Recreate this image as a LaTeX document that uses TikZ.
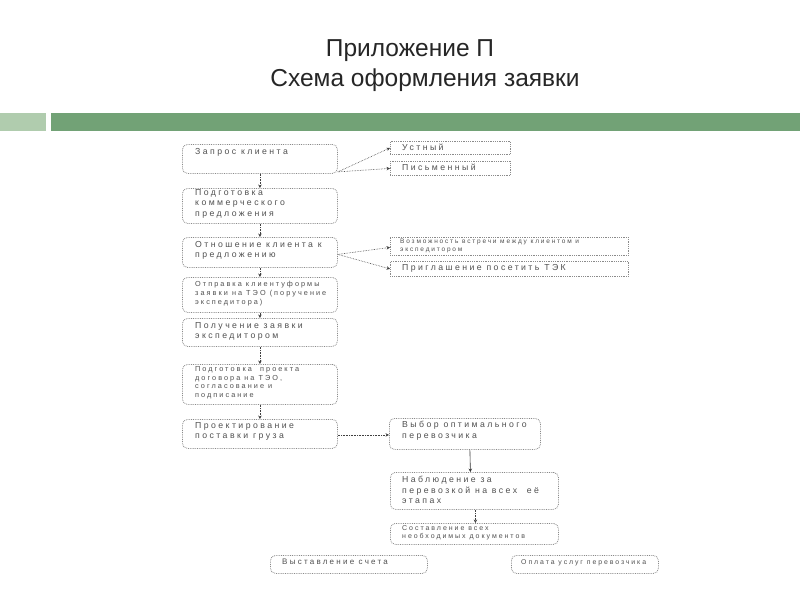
\documentclass[tikz,border=0pt]{standalone}
\usepackage{fontspec}
\setmainfont{Liberation Sans}
\newfontfamily\boxfont[LetterSpace=28]{Liberation Sans}
\usetikzlibrary{arrows.meta}
\definecolor{barlight}{HTML}{B0CCAE}
\definecolor{bardark}{HTML}{72A276}
\definecolor{boxline}{HTML}{8A8A8A}
\definecolor{boxtext}{HTML}{505050}
\begin{document}
\begin{tikzpicture}[x=1pt,y=-1pt,
  lbox/.style={draw=boxline, densely dotted, line width=0.8pt, rounded corners=5pt, inner sep=0pt, anchor=north west},
  sbox/.style={draw=boxline, densely dotted, line width=0.8pt, inner sep=0pt, anchor=north west},
  btxt/.style={font=\boxfont\fontsize{8.7}{10.5}\selectfont, text=boxtext, align=left, inner sep=0pt, anchor=north west},
  stxt/.style={font=\boxfont\fontsize{7.3}{8.8}\selectfont, text=boxtext, align=left, inner sep=0pt, anchor=north west},
  ttxt/.style={font=\boxfont\fontsize{6.5}{8}\selectfont, text=boxtext, align=left, inner sep=0pt, anchor=north west},
  conn/.style={densely dotted, draw=black!75, line width=0.6pt, -{Stealth[length=3.5pt,width=3.5pt]}},
  sconn/.style={draw=black!80, line width=0.6pt, -{Stealth[length=3.5pt,width=3.5pt]}},
  title/.style={font=\fontsize{24.5}{28}\selectfont, text=black!85, inner sep=0pt}
]
\useasboundingbox (0,0) rectangle (800,600);
\fill[white] (0,0) rectangle (800,600);
% title
\node[title] (title1) at (410,51) {Приложение П};
\node[title] (title2) at (425,80) {Схема оформления заявки};
% bars
\fill[barlight] (0,113) rectangle (46,131);
\fill[bardark] (51,113) rectangle (800,131);
% left column
\node[lbox, minimum width=155pt, minimum height=29pt] (b1) at (182,144) {};
\node[btxt] (t1) at (195,148) {Запрос клиента};
\node[lbox, minimum width=155pt, minimum height=35pt] (b2) at (182,188) {};
\node[btxt] (t2) at (195,189) {Подготовка\\коммерческого\\предложения};
\node[lbox, minimum width=155pt, minimum height=30pt] (b3) at (182,237) {};
\node[btxt] (t3) at (195,241) {Отношение клиента к\\предложению};
\node[lbox, minimum width=155pt, minimum height=35pt] (b4) at (182,277) {};
\node[stxt] (t4) at (195,281) {Отправка клиентуформы\\заявки на ТЭО (поручение\\экспедитора)};
\node[lbox, minimum width=155pt, minimum height=28pt] (b5) at (182,318) {};
\node[btxt] (t5) at (195,322) {Получение заявки\\экспедитором};
\node[lbox, minimum width=155pt, minimum height=40pt] (b6) at (182,364) {};
\node[stxt] (t6) at (195,366) {Подготовка \ проекта\\договора на ТЭО,\\согласование и\\подписание};
\node[lbox, minimum width=155pt, minimum height=29pt] (b7) at (182,419) {};
\node[btxt] (t7) at (195,422) {Проектирование\\поставки груза};
% right column
\node[sbox, minimum width=120pt, minimum height=13pt] (r1) at (390,141) {};
\node[btxt] (s1) at (402,144) {Устный};
\node[sbox, minimum width=120pt, minimum height=14pt] (r2) at (390,161) {};
\node[btxt] (s2) at (402,164) {Письменный};
\node[sbox, minimum width=238pt, minimum height=18pt] (r3) at (390,237) {};
\node[ttxt] (s3) at (400,239) {Возможность встречи между клиентом и\\экспедитором};
\node[sbox, minimum width=238pt, minimum height=15pt] (r4) at (390,261) {};
\node[btxt] (s4) at (402,264) {Приглашение посетить ТЭК};
\node[lbox, minimum width=151pt, minimum height=31pt] (r5) at (389,418) {};
\node[btxt] (s5) at (402,421) {Выбор оптимального\\перевозчика};
\node[lbox, minimum width=168pt, minimum height=37pt] (r6) at (390,472) {};
\node[btxt] (s6) at (402,476) {Наблюдение за\\перевозкой на всех \ её\\этапах};
\node[lbox, minimum width=168pt, minimum height=21pt] (r7) at (390,523) {};
\node[font=\boxfont\fontsize{7}{8.5}\selectfont, text=boxtext, align=left, inner sep=0pt, anchor=north west] (s7) at (402,525) {Составление всех\\необходимых документов};
\node[lbox, minimum width=157pt, minimum height=18pt] (r8) at (270,555) {};
\node[font=\boxfont\fontsize{8}{10}\selectfont, text=boxtext, inner sep=0pt, anchor=north west] (s8) at (282,559) {Выставление счета};
\node[lbox, minimum width=147pt, minimum height=18pt] (r9) at (511,555) {};
\node[font=\boxfont\fontsize{6.9}{8.5}\selectfont, text=boxtext, inner sep=0pt, anchor=north west] (s9) at (521,559) {Оплата услуг перевозчика};
% connectors
\draw[conn] ([yshift=-13pt]b1.east) -- (r1.west);
\draw[conn] ([yshift=-13pt]b1.east) -- (r2.west);
\draw[conn] ([yshift=-2pt]b3.east) -- ([yshift=-1pt]r3.west);
\draw[conn] ([yshift=-2pt]b3.east) -- (r4.west);
\draw[conn] (b1.south) -- (b2.north);
\draw[conn] (b2.south) -- (b3.north);
\draw[conn] (b3.south) -- (b4.north);
\draw[conn] (b4.south) -- (b5.north);
\draw[conn] (b5.south) -- (b6.north);
\draw[conn] (b6.south) -- (b7.north);
\draw[conn] ([yshift=-1pt]b7.east) -- ([yshift=-1pt]r5.west);
\draw[sconn] ([xshift=5pt]r5.south) -- ([xshift=-4pt]r6.north);
\draw[conn] ([xshift=1pt]r6.south) -- ([xshift=1pt]r7.north);
\end{tikzpicture}
\end{document}
